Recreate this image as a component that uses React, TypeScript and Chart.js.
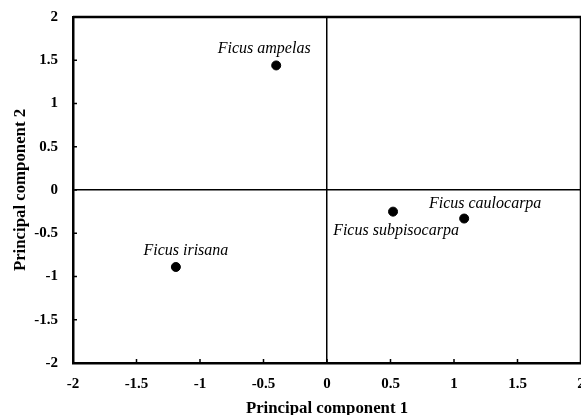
import React, { useEffect, useRef } from "react";
import { Chart, registerables } from "chart.js";

Chart.register(...registerables);

const species = ["Ficus ampelas", "Ficus irisana", "Ficus subpisocarpa", "Ficus caulocarpa"];
const pc1 = [-0.4, -1.19, 0.52, 1.08];
const pc2 = [1.44, -0.89, -0.25, -0.33];
const axisTicks = [-2, -1.5, -1, -0.5, 0, 0.5, 1, 1.5, 2];

// label placement relative to each point (pixels): [dx, dy]
const labelOffsets: [number, number][] = [
  [-12, -17],
  [10, -16],
  [3, 19],
  [21, -15],
];

const SERIF = "'Liberation Serif', 'Times New Roman', serif";

const decorPlugin = {
  id: "decor",
  afterDatasetsDraw(chart: any) {
    const { ctx, chartArea, scales } = chart;
    const { left, right, top, bottom } = chartArea;
    ctx.save();
    ctx.strokeStyle = "#000";
    ctx.lineWidth = 2.5;
    ctx.beginPath();
    ctx.moveTo(left, top);
    ctx.lineTo(right, top);
    ctx.lineTo(right, bottom);
    ctx.stroke();
    ctx.lineWidth = 1.5;
    ctx.beginPath();
    axisTicks.forEach((v) => {
      const px = scales.x.getPixelForValue(v);
      ctx.moveTo(px, bottom);
      ctx.lineTo(px, bottom - 4);
      const py = scales.y.getPixelForValue(v);
      ctx.moveTo(left, py);
      ctx.lineTo(left + 4, py);
    });
    ctx.stroke();
    ctx.fillStyle = "#000";
    ctx.font = `italic 16px ${SERIF}`;
    ctx.textAlign = "center";
    ctx.textBaseline = "middle";
    const meta = chart.getDatasetMeta(0);
    meta.data.forEach((pt: any, i: number) => {
      const [dx, dy] = labelOffsets[i];
      ctx.fillText(species[i], pt.x + dx, pt.y + dy);
    });
    ctx.restore();
  },
};

export default function App() {
  const ref = useRef<HTMLCanvasElement>(null);
  useEffect(() => {
    if (!ref.current) return;
    const tickFont = { family: SERIF, size: 15, weight: "bold" as const };
    const titleFont = { family: SERIF, size: 16.8, weight: "bold" as const, lineHeight: 1 };
    const fmt = (v: any) => String(Number(v));
    const gridOpts = {
      drawTicks: false,
      drawOnChartArea: true,
      color: (c: any) => (c.tick && c.tick.value === 0 ? "#000" : "rgba(0,0,0,0)"),
      lineWidth: (c: any) => (c.tick && c.tick.value === 0 ? 1.5 : 0),
    };
    const chart = new Chart(ref.current, {
      type: "scatter",
      data: {
        labels: species,
        datasets: [
          {
            label: "Species",
            data: pc1.map((x, i) => ({ x, y: pc2[i] })),
            backgroundColor: "#000",
            borderColor: "#000",
            pointRadius: 4.5,
            pointHoverRadius: 4.5,
          },
        ],
      },
      options: {
        animation: false,
        responsive: true,
        maintainAspectRatio: false,
        layout: { padding: { left: 0, top: 17, right: 39, bottom: 0 } },
        plugins: { legend: { display: false }, tooltip: { enabled: false } },
        scales: {
          x: {
            type: "linear",
            min: -2,
            max: 2,
            afterFit: (s: any) => {
              s.height = 52;
              s.paddingLeft = 0;
              s.paddingRight = 0;
            },
            ticks: { stepSize: 0.5, color: "#000", font: tickFont, padding: 12, maxRotation: 0, callback: fmt },
            grid: gridOpts as any,
            border: { display: true, color: "#000", width: 2.5 },
            title: {
              display: true,
              text: "Principal component 1",
              color: "#000",
              font: titleFont,
              padding: { top: 0, bottom: -2 },
            },
          },
          y: {
            type: "linear",
            min: -2,
            max: 2,
            afterFit: (s: any) => {
              s.width = 73;
              s.paddingTop = 0;
              s.paddingBottom = 0;
            },
            ticks: { stepSize: 0.5, color: "#000", font: tickFont, padding: 15, callback: fmt },
            grid: gridOpts as any,
            border: { display: true, color: "#000", width: 2.5 },
            title: {
              display: true,
              text: "Principal component 2",
              color: "#000",
              font: titleFont,
              padding: { top: 12, bottom: 0 },
            },
          },
        },
      },
      plugins: [decorPlugin],
    });
    return () => chart.destroy();
  }, []);
  return (
    <div style={{ position: "fixed", left: 0, top: 0, width: 620, height: 415, background: "#fff" }}>
      <canvas ref={ref} />
    </div>
  );
}
